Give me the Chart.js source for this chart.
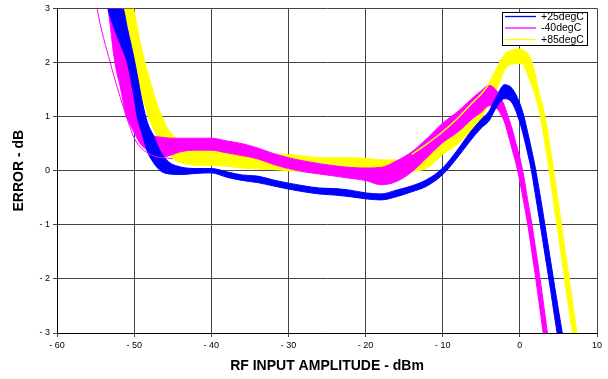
<!DOCTYPE html>
<html>
<head>
<meta charset="utf-8">
<script src="https://cdn.jsdelivr.net/npm/chart.js@4.4.1/dist/chart.umd.min.js"></script>
<style>
  html, body { margin: 0; padding: 0; background: #fff; }
  #wrap { width: 608px; height: 379px; }
</style>
</head>
<body>
<div id="wrap"><canvas id="errChart" width="608" height="379"></canvas></div>
<script>
// temperature groups
const tempLabels = ['+25degC', '-40degC', '+85degC'];

// +25degC bundle: upper and lower edge of the curve family
const p25X  = [-54, -53.4, -52.5, -51.4, -50.9, -50, -49.6, -49, -48.3, -47.5, -46.6, -45.5, -44, -42, -40, -38, -36, -34, -32, -30, -28, -26, -24, -22, -20, -18, -16, -14, -12, -10, -8, -6.5, -5, -4, -3, -2, -1, 0, 0.5, 1, 1.5, 2, 2.5, 3, 3.5, 4, 4.5, 5, 5.5, 6];
const p25Hi = [3.6, 3.5, 3.3, 3.0, 2.65, 2.07, 1.77, 1.31, 0.9, 0.65, 0.36, 0.16, 0.07, 0.04, 0.04, -0.02, -0.08, -0.1, -0.17, -0.23, -0.28, -0.32, -0.33, -0.36, -0.41, -0.43, -0.36, -0.28, -0.16, 0.05, 0.4, 0.7, 0.95, 1.1, 1.38, 1.59, 1.52, 1.24, 1.02, 0.72, 0.4, 0.06, -0.35, -0.78, -1.23, -1.68, -2.13, -2.57, -3.0, -3.45];
const p25Lo = [3.4, 3.0, 2.6, 2.2, 2.0, 1.35, 1.0, 0.7, 0.36, 0.15, 0.0, -0.06, -0.07, -0.05, -0.04, -0.12, -0.18, -0.22, -0.28, -0.34, -0.39, -0.43, -0.45, -0.48, -0.52, -0.54, -0.48, -0.39, -0.28, -0.07, 0.26, 0.54, 0.79, 0.92, 1.18, 1.33, 1.25, 0.89, 0.63, 0.33, 0.0, -0.43, -0.87, -1.32, -1.77, -2.22, -2.7, -3.15, -3.6, -4.1];

// -40degC bundle
const m40X  = [-54, -53.4, -52.5, -51.8, -51, -50.6, -49.8, -49.2, -48.5, -47.5, -46.5, -45, -44, -42, -40, -38, -36, -34, -32, -30, -28, -26, -24, -22, -20, -18, -16, -14, -12, -10, -8, -6, -5, -4, -3, -2.5, -2, -1.5, -1, -0.5, 0, 0.5, 1, 1.5, 2, 2.5, 3, 3.5, 4];
const m40Hi = [4.0, 3.6, 3.25, 3.0, 2.35, 2.0, 1.4, 1.0, 0.8, 0.65, 0.62, 0.6, 0.6, 0.6, 0.6, 0.55, 0.5, 0.42, 0.32, 0.24, 0.18, 0.13, 0.09, 0.06, 0.05, 0.06, 0.18, 0.35, 0.6, 0.88, 1.1, 1.36, 1.48, 1.58, 1.48, 1.36, 1.2, 0.99, 0.77, 0.5, 0.24, -0.1, -0.53, -0.93, -1.4, -1.88, -2.39, -2.92, -3.45];
const m40Lo = [3.4, 3.0, 2.0, 1.55, 1.0, 0.88, 0.65, 0.5, 0.4, 0.3, 0.25, 0.3, 0.35, 0.38, 0.38, 0.33, 0.28, 0.22, 0.12, 0.04, -0.02, -0.06, -0.1, -0.14, -0.18, -0.26, -0.2, -0.02, 0.25, 0.52, 0.72, 0.98, 1.08, 1.2, 1.15, 1.05, 0.9, 0.66, 0.39, 0.13, -0.2, -0.58, -0.98, -1.45, -1.93, -2.45, -2.98, -3.5, -4.0];
// single stray -40degC curve on the far left
const m40OutX = [-55.3, -54.8, -53.1, -51, -49.9, -47.9, -45];
const m40OutY = [3.5, 3.0, 2.0, 1.0, 0.58, 0.3, 0.22];

// +85degC bundle
const p85X  = [-52.5, -51.6, -51, -50.1, -49.4, -48.6, -48.2, -47.5, -46.4, -45.5, -44.5, -43, -42, -40, -38, -36, -34, -32, -30, -28, -26, -24, -22, -20, -18, -16, -14, -12, -10, -8, -6, -5, -4, -3, -2, -1, 0, 0.5, 1, 1.5, 2, 2.5, 3, 3.5, 4, 4.5, 5, 5.5, 6, 6.5, 7, 7.5, 8];
const p85Hi = [3.9, 3.5, 3.25, 3.0, 2.5, 2.0, 1.8, 1.45, 1.0, 0.75, 0.6, 0.52, 0.48, 0.42, 0.38, 0.34, 0.32, 0.31, 0.3, 0.27, 0.24, 0.24, 0.24, 0.23, 0.2, 0.2, 0.28, 0.45, 0.75, 0.92, 1.2, 1.35, 1.62, 1.9, 2.15, 2.23, 2.25, 2.22, 2.17, 2.04, 1.78, 1.44, 1.17, 0.82, 0.36, -0.1, -0.6, -1.1, -1.6, -2.1, -2.6, -3.1, -3.6];
const p85Lo = [3.5, 3.0, 2.6, 2.0, 1.6, 1.2, 1.0, 0.78, 0.45, 0.3, 0.18, 0.12, 0.1, 0.1, 0.08, 0.05, 0.03, 0.02, 0.0, -0.02, -0.04, -0.05, -0.06, -0.06, -0.08, -0.1, -0.02, 0.05, 0.3, 0.5, 0.8, 0.95, 1.25, 1.5, 1.85, 1.97, 1.98, 1.95, 1.78, 1.58, 1.38, 1.11, 0.73, 0.27, -0.2, -0.7, -1.2, -1.7, -2.2, -2.7, -3.2, -3.7, -4.2];
// +85degC curve inside the -40degC rise
const p85MidX = [-14, -12, -10, -8, -6, -5, -4];
const p85MidY = [0.3, 0.5, 0.72, 0.98, 1.28, 1.42, 1.6];

const colors = ['#0000ff', '#ff00ff', '#ffff00'];
const tickFont = { family: '"Liberation Sans", Arial, sans-serif', size: 9 };
const titleFont = { family: '"Liberation Sans", Arial, sans-serif', size: 14, weight: 'bold' };

const pts = (xs, ys) => xs.map((x, i) => ({ x, y: ys[i] }));
const minusFmt = v => (v < 0 ? '- ' + Math.abs(v) : String(v));

const curve = (xs, ys, color, extra) => Object.assign({
    data: pts(xs, ys),
    borderColor: color,
    backgroundColor: color,
    borderWidth: 1,
    pointRadius: 0,
    cubicInterpolationMode: 'monotone',
    fill: false
}, extra || {});

// index 0 is painted last (on top)
const datasets = [
    curve(m40OutX, m40OutY, colors[1]),
    curve(p85MidX, p85MidY, colors[2], { borderWidth: 1.5 }),
    curve(p25X, p25Hi, colors[0], { fill: 3 }),
    curve(p25X, p25Lo, colors[0]),
    curve(m40X, m40Hi, colors[1], { fill: 5 }),
    curve(m40X, m40Lo, colors[1]),
    curve(p85X, p85Hi, colors[2], { fill: 7 }),
    curve(p85X, p85Lo, colors[2])
];

const boxLegend = {
    id: 'boxLegend',
    afterDraw(chart) {
        const ctx = chart.ctx;
        ctx.save();
        ctx.fillStyle = '#fff';
        ctx.fillRect(502.5, 12.5, 85, 33);
        ctx.strokeStyle = '#000';
        ctx.lineWidth = 1;
        ctx.strokeRect(502.5, 12.5, 85, 33);
        ctx.font = '10.5px "Liberation Sans", Arial, sans-serif';
        ctx.textBaseline = 'middle';
        tempLabels.forEach((lab, i) => {
            const y = 16.5 + i * 11.5;
            ctx.strokeStyle = colors[i];
            ctx.lineWidth = 1.3;
            ctx.beginPath();
            ctx.moveTo(505, y);
            ctx.lineTo(536, y);
            ctx.stroke();
            ctx.fillStyle = '#000';
            ctx.fillText(lab, 541, y + 0.5);
        });
        ctx.restore();
    }
};

new Chart(document.getElementById('errChart').getContext('2d'), {
    type: 'line',
    data: { datasets },
    plugins: [boxLegend],
    options: {
        responsive: false,
        animation: false,
        devicePixelRatio: 1,
        layout: { padding: { top: 6, right: 11, left: 0, bottom: 0 } },
        plugins: { legend: { display: false }, tooltip: { enabled: false } },
        scales: {
            x: {
                type: 'linear',
                min: -60,
                max: 10,
                afterFit: s => { s.height = 46; },
                ticks: { stepSize: 10, font: tickFont, color: '#000', padding: 3, maxRotation: 0, callback: minusFmt },
                grid: { color: '#444', tickLength: 4 },
                border: { color: '#000' },
                title: { display: true, text: 'RF INPUT AMPLITUDE - dBm', font: titleFont, color: '#000', padding: { top: 0, bottom: 4 } }
            },
            y: {
                min: -3,
                max: 3,
                afterFit: s => { s.width = 57; },
                ticks: { stepSize: 1, font: tickFont, color: '#000', padding: 3, callback: minusFmt },
                grid: { color: '#444', tickLength: 4 },
                border: { color: '#000' },
                title: { display: true, text: 'ERROR - dB', font: titleFont, color: '#000', padding: { top: 11, bottom: 0 } }
            }
        }
    }
});
</script>
</body>
</html>
